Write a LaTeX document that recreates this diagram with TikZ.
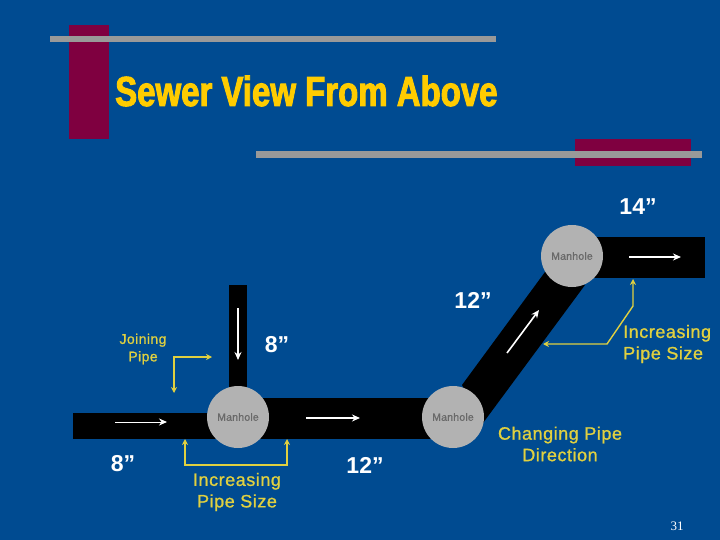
\documentclass[tikz,border=0pt]{standalone}
\usepackage{fontspec}
\setmainfont{Liberation Sans}
\newfontfamily\titlefont[FakeStretch=0.785,FakeBold=2.2]{Liberation Sans Bold}
\newfontfamily\pagefont{Liberation Serif}
\newfontfamily\notefont[FakeBold=1,LetterSpace=3]{Liberation Sans}
\newfontfamily\holefont[FakeBold=1,LetterSpace=2]{Liberation Sans}
\usetikzlibrary{arrows.meta}
\definecolor{bgblue}{RGB}{0,75,145}
\definecolor{barmaroon}{RGB}{127,0,64}
\definecolor{bargray}{RGB}{153,153,153}
\definecolor{titleyellow}{RGB}{255,204,0}
\definecolor{noteyellow}{RGB}{224,208,64}
\definecolor{holegray}{RGB}{178,178,178}
\definecolor{holetext}{RGB}{105,105,105}
\tikzset{
  pipe/.style={fill=black,draw=none},
  hole/.style={circle,fill=holegray,draw=none,minimum size=62pt,inner sep=0pt,text=holetext,font=\holefont\fontsize{10.5}{13}\selectfont},
  size/.style={text=white,font=\fontsize{23}{25}\selectfont\bfseries,inner sep=0pt},
  note/.style={text=noteyellow,align=center,inner sep=0pt,font=\notefont\fontsize{18}{21.5}\selectfont},
  notesmall/.style={text=noteyellow,align=center,inner sep=0pt,font=\notefont\fontsize{14}{17.5}\selectfont},
  flow/.style={white,line width=1.6pt,-{Stealth[length=8pt,width=7pt]}},
  flowthin/.style={white,line width=1pt,-{Stealth[length=8pt,width=7pt]}},
  lead/.style={noteyellow,line width=1.4pt,{Stealth[length=6pt,width=6pt]}-{Stealth[length=6pt,width=6pt]}}
}
\begin{document}
\begin{tikzpicture}[x=1pt,y=-1pt]
\useasboundingbox (0,0) rectangle (720,540);
\fill[bgblue] (0,0) rectangle (720,540);
% decorative bars
\fill[barmaroon] (69,25) rectangle (109,139);
\fill[barmaroon] (575,139) rectangle (691,166);
\fill[bargray] (50,36) rectangle (496,42);
\fill[bargray] (256,151) rectangle (702,158);
\node[text=titleyellow,inner sep=0pt,anchor=base west,font=\titlefont\fontsize{42}{46}\selectfont] (title) at (115,106) {Sewer View From Above};
% pipes
\fill[pipe] (73,413) rectangle (238,439);
\fill[pipe] (238,398) rectangle (453,439);
\fill[pipe] (229,285) rectangle (247,417);
\fill[pipe] (572,237) rectangle (705,278);
\fill[pipe] (462,385) -- (545,272) -- (585,285) -- (483,423) -- cycle;
% manholes
\node[hole] (mh1) at (238,417) {Manhole};
\node[hole] (mh2) at (453,417) {Manhole};
\node[hole] (mh3) at (572,256) {Manhole};
% flow arrows
\coordinate (fa1) at (115,422); \coordinate (fa2) at (167,422);
\coordinate (fb1) at (306,418); \coordinate (fb2) at (360,418);
\coordinate (fc1) at (238,308); \coordinate (fc2) at (238,360);
\coordinate (fd1) at (507,353); \coordinate (fd2) at (539,310);
\coordinate (fe1) at (629,257); \coordinate (fe2) at (681,257);
\draw[flowthin] (fa1) -- (fa2);
\draw[flow] (fb1) -- (fb2);
\draw[flow] (fc1) -- (fc2);
\draw[flow] (fd1) -- (fd2);
\draw[flow] (fe1) -- (fe2);
% labels
\node[size] (s14) at (638,207) {14”};
\node[size] (s12a) at (473,300) {12”};
\node[size] (s8a) at (277,345) {8”};
\node[size] (s8b) at (123,464) {8”};
\node[size] (s12b) at (365,465) {12”};
\node[notesmall] (join) at (143,349) {Joining\\Pipe};
\node[note] (inc1) at (237,492) {Increasing\\Pipe Size};
\node[note,anchor=west,align=left] (inc2) at (623,344) {Increasing\\Pipe Size};
\node[note] (chg) at (560,444) {Changing Pipe\\Direction};
\node[text=white,inner sep=0pt,font=\pagefont\fontsize{13}{15}\selectfont] (pg) at (677,526) {31};
% yellow leaders
\coordinate (ja) at (174,357); \coordinate (jb) at (212,357); \coordinate (jc) at (174,393);
\draw[lead] (jc) -- (ja) -- (jb);
\coordinate (ia) at (185,439); \coordinate (ib) at (185,465); \coordinate (ic) at (287,465); \coordinate (id) at (287,439);
\draw[lead] (ia) -- (ib) -- (ic) -- (id);
\coordinate (ka) at (543,344); \coordinate (kb) at (607,344); \coordinate (kc) at (633,306); \coordinate (kd) at (633,279);
\draw[lead] (ka) -- (kb) -- (kc) -- (kd);
\end{tikzpicture}
\end{document}
